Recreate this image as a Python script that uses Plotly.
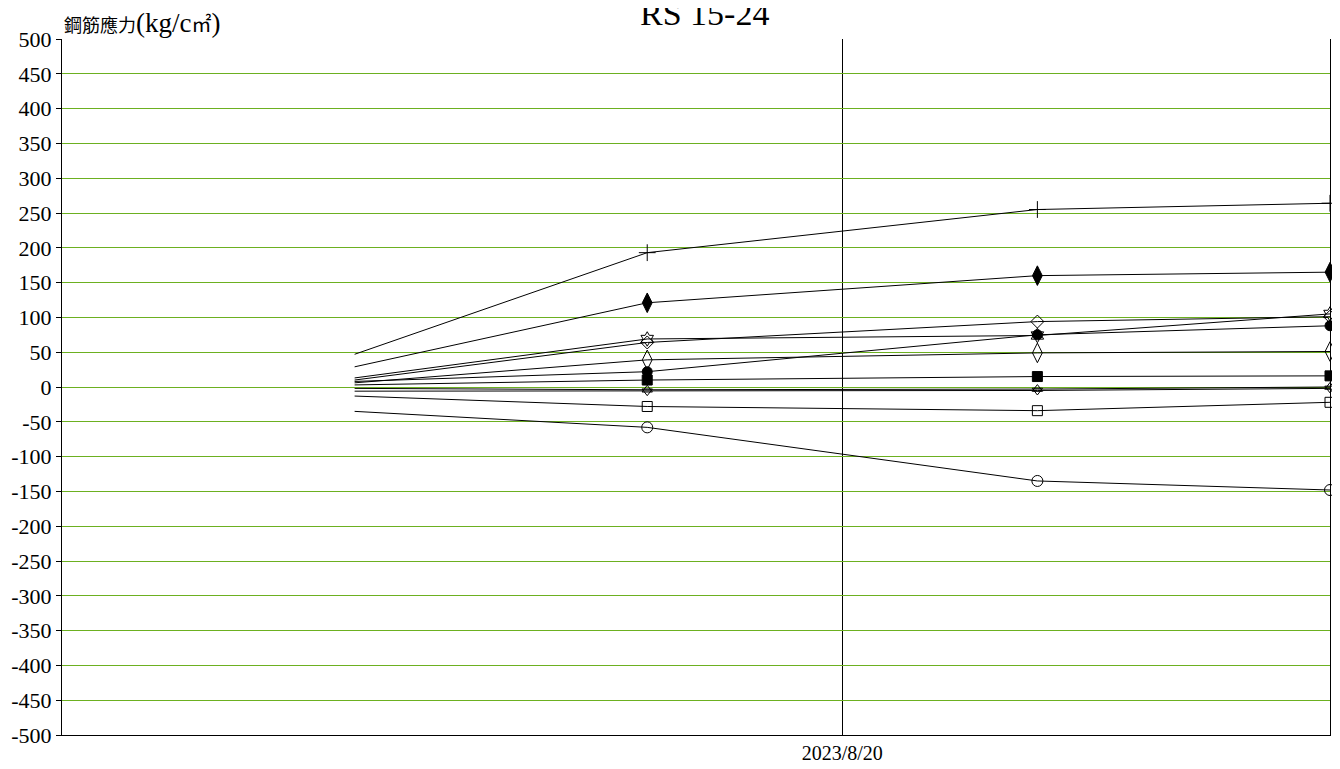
import plotly.graph_objects as go

dates = ["2023-08-15", "2023-08-18", "2023-08-22", "2023-08-25"]

s_cross = [47, 193, 255, 264]
s_fell = [29, 121, 160, 165]
s_hex = [13, 69, 74, 105]
s_diamond = [10, 64, 94, 101]
s_fcircle = [8, 22, 75, 88]
s_oell = [6, 39, 49, 51]
s_fsquare = [3, 10, 15, 16]
s_tri_up = [-2, -4, -3, 0]
s_tri_dn = [-6, -6, -5, -2]
s_osquare = [-13, -28, -34, -22]
s_ocircle = [-35, -58, -135, -148]

x_range = ["2023-08-12", "2023-08-25"]
x_tick = ["2023-08-20"]
x_ticktext = ["2023/8/20"]
y_ticks = list(range(-500, 501, 50))
y_ticktext = [str(v) for v in y_ticks]

series = [
    (s_cross, "cross-thin-open", 12),
    (s_fell, "diamond-tall", 14),
    (s_hex, "hexagram-open", 11),
    (s_diamond, "diamond-open", 10),
    (s_fcircle, "circle", 10),
    (s_oell, "diamond-tall-open", 14),
    (s_fsquare, "square", 10),
    (s_tri_up, "triangle-up-open", 9),
    (s_tri_dn, "triangle-down-open", 9),
    (s_osquare, "square-open", 10),
    (s_ocircle, "circle-open", 11),
]

fig = go.Figure()
for vals, sym, size in series:
    fig.add_trace(go.Scatter(x=dates, y=vals, mode="lines",
                             line=dict(color="black", width=1),
                             hoverinfo="skip", showlegend=False))
    fig.add_trace(go.Scatter(x=dates[1:], y=vals[1:], mode="markers",
                             cliponaxis=False,
                             marker=dict(symbol=sym, size=size, color="black",
                                         line=dict(color="black", width=1)),
                             showlegend=False))

serif = "Liberation Serif, Noto Sans CJK TC, serif"
green = "#6cb020"

ylabel = ("<span style='font-size:18px'>鋼筋應力</span>"
          "<span style='font-size:27px'>(kg/c</span>"
          "<span style='font-size:20px'>㎡</span>"
          "<span style='font-size:27px'>)</span>")

fig.update_layout(
    width=1332, height=761,
    margin=dict(l=54, r=10, t=31, b=34),
    paper_bgcolor="white", plot_bgcolor="white",
    font=dict(family=serif, color="black"),
    showlegend=False,
    xaxis=dict(type="date", range=x_range, tickvals=x_tick, ticktext=x_ticktext,
               showgrid=True, gridcolor="black", gridwidth=1, automargin=False,
               showline=True, linecolor="black", linewidth=1, mirror=False,
               ticks="", tickfont=dict(size=20, family=serif), zeroline=False),
    yaxis=dict(range=[-500, 500], tickvals=y_ticks, ticktext=y_ticktext,
               showgrid=True, automargin=False,
               gridcolor=green, gridwidth=1, zeroline=False,
               showline=True, linecolor="black", linewidth=1, mirror=True,
               ticks="outside", ticklen=5, tickcolor="black",
               tickfont=dict(size=22, family=serif)),
    annotations=[
        dict(text="RS 15-24", xref="paper", yref="paper", x=0.5, y=1,
             xanchor="center", yanchor="bottom", yshift=5, xshift=8,
             showarrow=False, font=dict(size=34, family=serif)),
        dict(text=ylabel, xref="paper", yref="paper", x=0, y=1,
             xanchor="left", yanchor="bottom", yshift=-1, showarrow=False,
             font=dict(size=20, family=serif)),
    ],
)

fig.write_html("out.html")
